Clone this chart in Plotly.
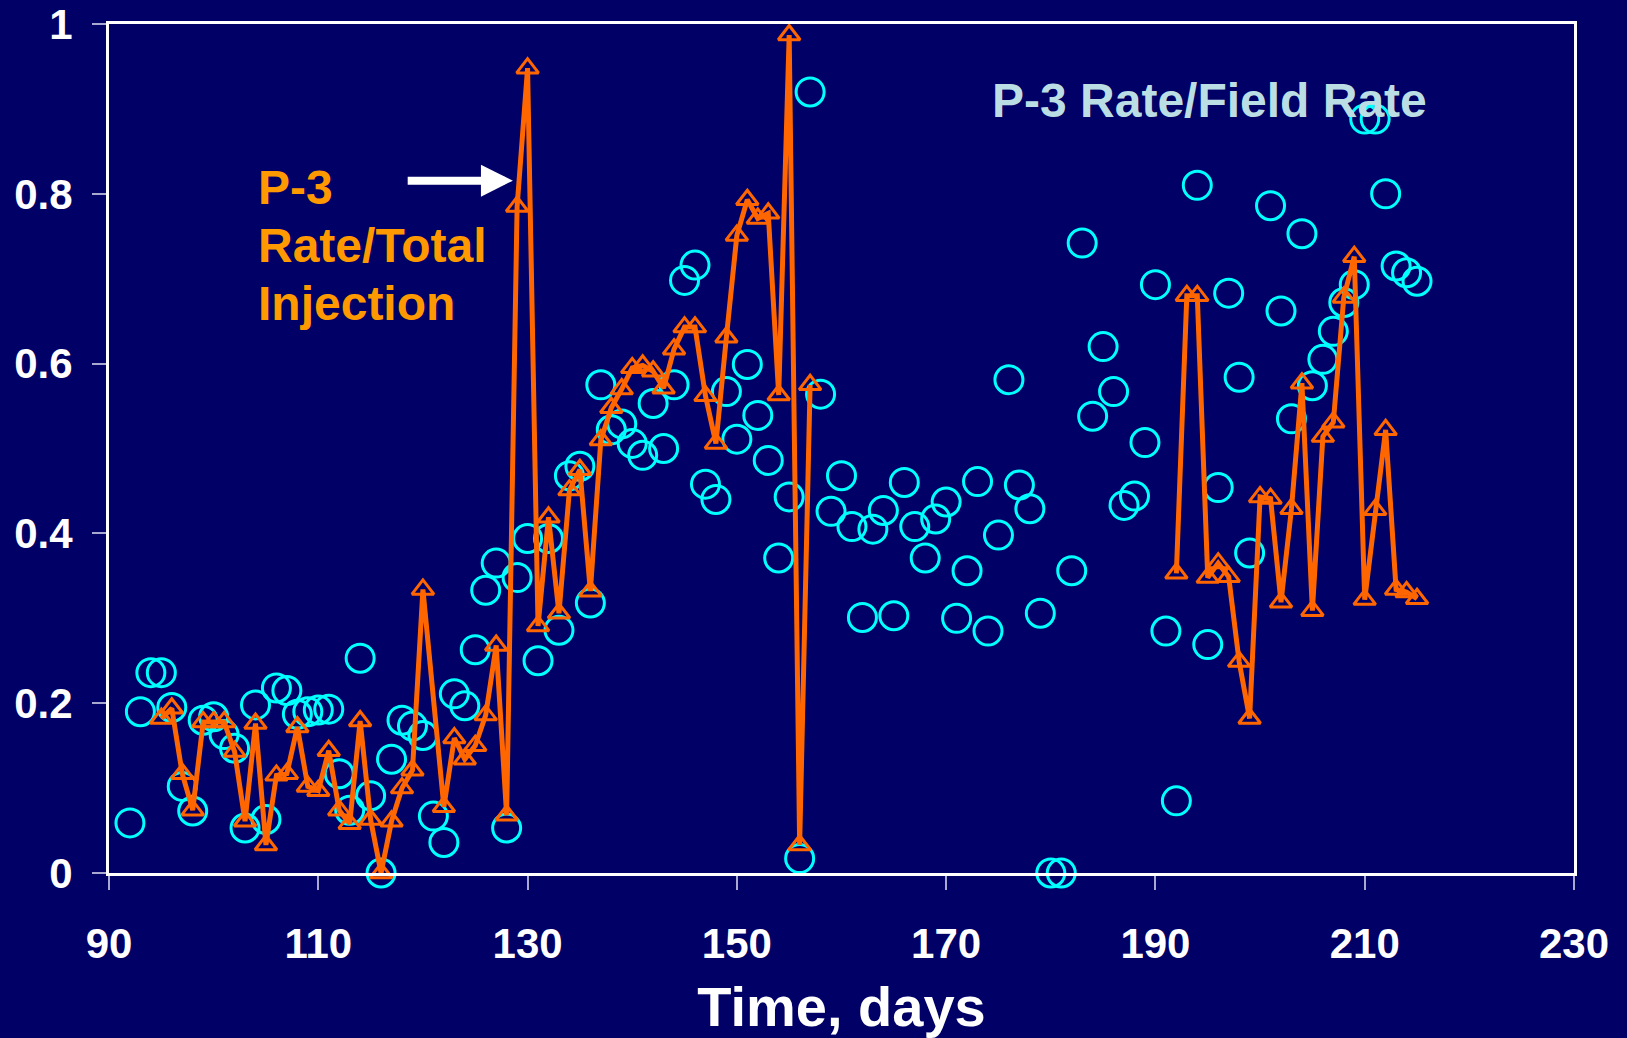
import plotly.graph_objects as go

# P-3 Rate / Field Rate (cyan open circles)
field_days = list(range(92, 193)) + [194, 195, 196, 197, 198, 199] + list(range(201, 216))
field_ratio = [
    0.059, 0.190, 0.236, 0.236, 0.195, 0.102, 0.073, 0.180, 0.184, 0.163,   # 92-101
    0.147, 0.053, 0.198, 0.063, 0.218, 0.215, 0.187, 0.190, 0.192, 0.193,   # 102-111
    0.117, 0.074, 0.253, 0.091, 0.000, 0.134, 0.180, 0.173, 0.162, 0.067,   # 112-121
    0.036, 0.211, 0.197, 0.263, 0.333, 0.365, 0.053, 0.348, 0.394, 0.250,   # 122-131
    0.394, 0.286, 0.468, 0.479, 0.318, 0.575, 0.522, 0.529, 0.506, 0.492,   # 132-141
    0.553, 0.500, 0.575, 0.698, 0.716, 0.458, 0.440, 0.567, 0.511, 0.599,   # 142-151
    0.539, 0.486, 0.371, 0.443, 0.017, 0.920, 0.564, 0.426, 0.468, 0.408,   # 152-161
    0.301, 0.405, 0.427, 0.303, 0.460, 0.408, 0.371, 0.417, 0.437, 0.300,   # 162-171
    0.356, 0.461, 0.285, 0.398, 0.581, 0.457, 0.429, 0.306, 0.000, 0.000,   # 172-181
    0.356, 0.742, 0.538, 0.620, 0.567, 0.433, 0.444, 0.507, 0.693, 0.285,   # 182-191
    0.085,                                                                   # 192
    0.810, 0.269, 0.454, 0.683, 0.584, 0.377,                               # 194-199
    0.786, 0.662, 0.535, 0.753, 0.574, 0.605, 0.638, 0.672, 0.693, 0.888,   # 201-210
    0.888, 0.800, 0.715, 0.707, 0.697,                                       # 211-215
]

# P-3 Rate / Total Injection (orange line with triangles), two segments
inj_days_a = list(range(95, 121)) + list(range(122, 158))
inj_ratio_a = [
    0.182, 0.194, 0.117, 0.074, 0.178, 0.178, 0.178, 0.143, 0.061, 0.176,   # 95-104
    0.033, 0.115, 0.117, 0.172, 0.102, 0.097, 0.144, 0.074, 0.058, 0.179,   # 105-114
    0.063, 0.000, 0.061, 0.100, 0.121, 0.334,                               # 115-120
    0.078, 0.159, 0.134, 0.150, 0.186, 0.268, 0.068, 0.785, 0.948, 0.291,   # 122-131
    0.419, 0.306, 0.451, 0.475, 0.332, 0.510, 0.548, 0.570, 0.595, 0.598,   # 132-141
    0.591, 0.571, 0.617, 0.643, 0.643, 0.562, 0.506, 0.631, 0.751, 0.793,   # 142-151
    0.771, 0.777, 0.563, 0.987, 0.033, 0.575,                               # 152-157
]
inj_days_b = list(range(192, 216))
inj_ratio_b = [
    0.353, 0.680, 0.680, 0.348, 0.365, 0.349, 0.249, 0.182, 0.443, 0.441,   # 192-201
    0.319, 0.429, 0.577, 0.309, 0.514, 0.531, 0.678, 0.726, 0.322, 0.428,   # 202-211
    0.522, 0.334, 0.331, 0.323,                                              # 212-215
]

x_ticks = [90, 110, 130, 150, 170, 190, 210, 230]
y_ticks = [0, 0.2, 0.4, 0.6, 0.8, 1]
y_tick_text = ["0", "0.2", "0.4", "0.6", "0.8", "1"]

BG = "#000066"
CYAN = "#00FFFF"
ORANGE_LINE = "#FF6600"
ORANGE_TEXT = "#FF9900"
PALE = "#BADEE4"
FONT = "Liberation Sans"

fig = go.Figure()

fig.add_trace(go.Scatter(
    x=field_days, y=field_ratio, mode="markers",
    name="P-3 Rate/Field Rate",
    marker=dict(symbol="circle-open", size=28, color=CYAN, line=dict(width=3, color=CYAN)),
    cliponaxis=False, showlegend=False,
))

fig.add_trace(go.Scatter(
    x=inj_days_a + [None] + inj_days_b,
    y=inj_ratio_a + [None] + inj_ratio_b,
    mode="lines+markers", connectgaps=False,
    name="P-3 Rate/Total Injection",
    line=dict(color=ORANGE_LINE, width=5),
    marker=dict(symbol="triangle-up-open", size=19, color=ORANGE_LINE,
                line=dict(width=3, color=ORANGE_LINE)),
    cliponaxis=False, showlegend=False,
))

axis_common = dict(
    showgrid=False, zeroline=False, automargin=False,
    showline=True, linecolor="white", linewidth=3, mirror=True,
    ticks="outside", ticklen=14, tickwidth=2, tickcolor="#A8A8D0",
    ticklabeloverflow="allow",
    tickfont=dict(family=FONT, size=42, color="white", weight="bold"),
)

fig.update_layout(
    width=1627, height=1038,
    margin=dict(l=109, r=53, t=24, b=165, autoexpand=False),
    paper_bgcolor=BG, plot_bgcolor=BG,
    font=dict(family=FONT, color="white"),
    xaxis=dict(range=[90, 230], tickvals=x_ticks, ticklabelstandoff=18,
               title=dict(text="Time, days", standoff=21,
                          font=dict(family=FONT, size=56, color="white", weight="bold")),
               **axis_common),
    yaxis=dict(range=[0, 1], tickvals=y_ticks, ticktext=y_tick_text,
               ticklabelstandoff=11, **axis_common),
    annotations=[
        dict(text="P-3 Rate/Field Rate", xref="paper", yref="paper", x=0.751, y=0.910,
             xanchor="center", yanchor="middle", showarrow=False,
             font=dict(family=FONT, size=48, color=PALE, weight="bold")),
        dict(text="P-3", xref="paper", yref="paper", x=0.1001, y=0.807,
             xanchor="left", yanchor="middle", showarrow=False,
             font=dict(family=FONT, size=48, color=ORANGE_TEXT, weight="bold")),
        dict(text="Rate/Total", xref="paper", yref="paper", x=0.1001, y=0.739,
             xanchor="left", yanchor="middle", showarrow=False,
             font=dict(family=FONT, size=48, color=ORANGE_TEXT, weight="bold")),
        dict(text="Injection", xref="paper", yref="paper", x=0.1001, y=0.671,
             xanchor="left", yanchor="middle", showarrow=False,
             font=dict(family=FONT, size=48, color=ORANGE_TEXT, weight="bold")),
        dict(text="", x=128.6, y=0.8155, ax=118.4, ay=0.8155, xref="x", yref="y",
             axref="x", ayref="y", showarrow=True, arrowhead=2, arrowsize=0.8,
             arrowwidth=8, arrowcolor="white", standoff=0, startstandoff=0),
    ],
)

fig.write_html("out.html", config={"displayModeBar": False},
               post_script="document.body.style.margin='0';document.body.style.overflow='hidden';")
